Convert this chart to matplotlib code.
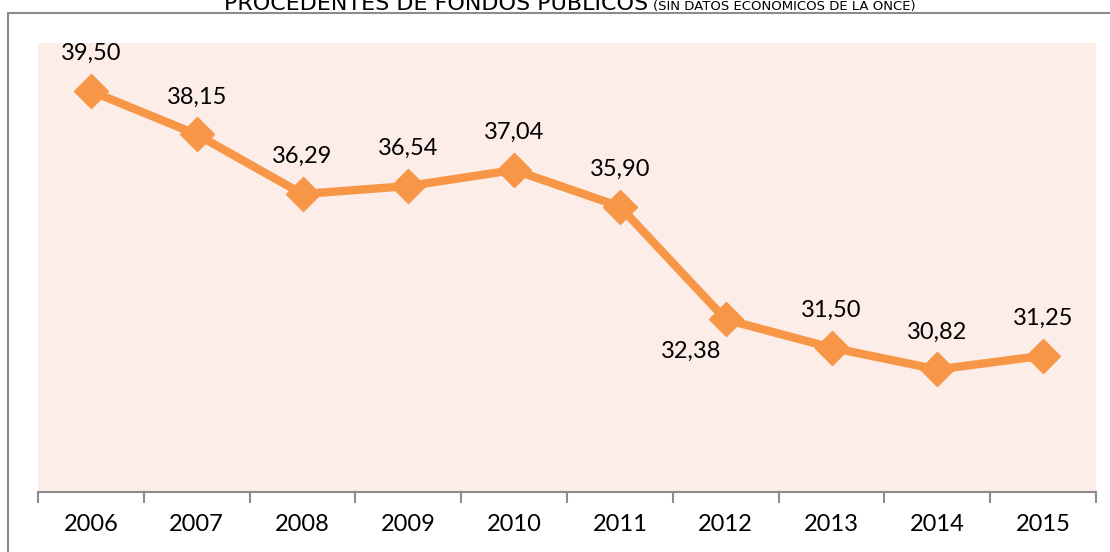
import matplotlib
matplotlib.use('Agg')
import matplotlib.pyplot as plt
from matplotlib.patches import Rectangle

# yearly share (%) coming from public funds
years = ['2006', '2007', '2008', '2009', '2010', '2011', '2012', '2013', '2014', '2015']
values = [39.50, 38.15, 36.29, 36.54, 37.04, 35.90, 32.38, 31.50, 30.82, 31.25]

orange = '#F79646'
grey = '#8C8C8C'

plt.rcParams['font.family'] = ['Lato', 'DejaVu Sans']

fig = plt.figure(figsize=(11.1, 5.52), dpi=100)
ax = fig.add_axes([38 / 1110, 1 - 492 / 552, 1058 / 1110, 449 / 552])

# chart frame around everything (runs off the right and bottom edge)
fig.add_artist(Rectangle((8 / 1110, -0.2), 1.2, 1.2 - 13 / 552, transform=fig.transFigure,
                         fill=False, edgecolor=grey, linewidth=1.5))

ax.set_facecolor('#FCEDE8')
x = list(range(len(years)))
ax.plot(x, values, color=orange, linewidth=6, marker='D', markersize=17,
        markerfacecolor=orange, markeredgecolor=orange, solid_joinstyle='miter')

for i, v in enumerate(values):
    label = f'{v:.2f}'.replace('.', ',')
    if years[i] == '2012':
        ax.annotate(label, (i, v), xytext=(-25, -23), textcoords='offset points',
                    ha='center', va='center', fontsize=17, color='black')
    else:
        ax.annotate(label, (i, v), xytext=(0, 27), textcoords='offset points',
                    ha='center', va='center', fontsize=17, color='black')

ax.set_xlim(-0.5, len(years) - 0.5)
ax.set_ylim(27, 41)
ax.set_xticks(x)
ax.set_xticklabels(years, fontsize=17)
ax.set_xticks([i - 0.5 for i in range(len(years) + 1)], minor=True)
ax.tick_params(axis='x', which='major', length=0, pad=16)
ax.tick_params(axis='x', which='minor', length=8, width=1.5, color=grey)
ax.set_yticks([])
for side in ['top', 'right', 'left']:
    ax.spines[side].set_visible(False)
ax.spines['bottom'].set_color(grey)
ax.spines['bottom'].set_linewidth(1.5)

# title, top part cut by the figure edge
fig.text(648 / 1110, 1 - 10 / 552, 'PROCEDENTES DE FONDOS PUBLICOS', ha='right', va='baseline',
         fontsize=16, family=['DejaVu Sans'], color='black')
fig.text(653 / 1110, 1 - 10 / 552, '(SIN DATOS ECONOMICOS DE LA ONCE)', ha='left', va='baseline',
         fontsize=9.5, family=['DejaVu Sans'], color='black')

fig.savefig('out.png', dpi=100)
